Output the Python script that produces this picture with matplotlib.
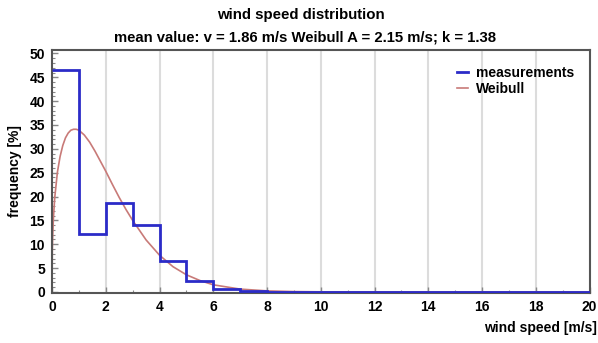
import matplotlib
matplotlib.use("Agg")
import matplotlib.pyplot as plt
import matplotlib.ticker as ticker

plt.rcParams['font.family'] = ['Liberation Sans', 'DejaVu Sans']
plt.rcParams['font.weight'] = 'bold'

# measured histogram, 1 m/s bins (left edges)
bin_edges = [0, 1, 2, 3, 4, 5, 6, 7, 8, 9, 10, 11, 12, 13, 14, 15, 16, 17, 18, 19, 20]
measured = [46.5, 12.2, 18.6, 14.0, 6.5, 2.4, 0.7, 0.25, 0.05, 0.0, 0.0, 0.0, 0.0,
            0.0, 0.0, 0.0, 0.0, 0.0, 0.0, 0.0]

# fitted Weibull curve
weib_x = [0, 0.01, 0.02, 0.05, 0.1, 0.2, 0.3, 0.4, 0.5, 0.6, 0.7, 0.8, 0.9, 1.0,
          1.2, 1.4, 1.6, 1.8, 2.0, 2.25, 2.5, 2.75, 3.0, 3.5, 4.0, 4.5, 5.0, 5.5,
          6.0, 7.0, 8.0, 9.0, 10.0, 12.0, 20.0]
weib_y = [0, 8.3, 10.8, 15.3, 19.7, 25.1, 28.4, 30.7, 32.3, 33.3, 33.9, 34.1, 34.1, 33.9,
          32.9, 31.4, 29.5, 27.4, 25.3, 22.5, 19.8, 17.3, 15.0, 10.9, 7.7, 5.3, 3.6, 2.4,
          1.5, 0.6, 0.23, 0.08, 0.03, 0.0, 0.0]

fig = plt.figure(figsize=(5.98, 3.43), dpi=100)
ax = fig.add_axes([0.087, 0.146, 0.899, 0.708])

for x in range(2, 20, 2):
    ax.axvline(x, color='#dcdcdc', lw=1.5, zorder=0)

ax.plot(weib_x, weib_y, color='#c87a78', lw=1.2, label='Weibull', zorder=2)
ax.stairs(measured, bin_edges, color='#2b2bc8', lw=2, label='measurements',
          baseline=None, zorder=3)

ax.set_xlim(0, 20)
ax.set_ylim(-0.2, 50.7)
ax.xaxis.set_major_locator(ticker.MultipleLocator(2))
ax.xaxis.set_minor_locator(ticker.MultipleLocator(1))
ax.yaxis.set_major_locator(ticker.MultipleLocator(5))
ax.yaxis.set_minor_locator(ticker.MultipleLocator(1))
ax.tick_params(which='both', direction='in', colors='#888888', labelcolor='black',
               labelsize=10, pad=5)
ax.tick_params(which='major', length=4, width=1)
ax.tick_params(which='minor', length=2.5, width=0.8)
for lab in ax.get_xticklabels() + ax.get_yticklabels():
    lab.set_fontweight('bold')
for s in ax.spines.values():
    s.set_color('#555555')
    s.set_linewidth(1.5)

# handles order: measurements first
h, l = ax.get_legend_handles_labels()
ax.legend(h[::-1], l[::-1], loc='upper right', frameon=False,
          handlelength=0.8, handletextpad=0.6, labelspacing=0.1,
          bbox_to_anchor=(0.995, 0.985), prop={'weight': 'bold', 'size': 10})

fig.text(0.503, 0.955, 'wind speed distribution', ha='center', va='center',
         fontsize=10.8, fontweight='bold')
fig.text(0.51, 0.892, 'mean value: v = 1.86 m/s Weibull A = 2.15 m/s; k = 1.38',
         ha='center', va='center', fontsize=10.7, fontweight='bold')
fig.text(0.025, 0.5, 'frequency [%]', rotation=90, ha='center', va='center',
         fontsize=10, fontweight='bold')
fig.text(0.998, 0.043, 'wind speed [m/s]', ha='right', va='center',
         fontsize=10, fontweight='bold')

fig.savefig('out.png', dpi=100)
